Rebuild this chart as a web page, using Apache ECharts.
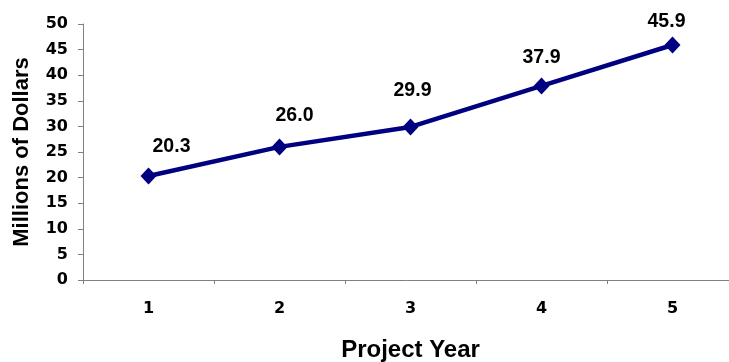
<!DOCTYPE html>
<html>
<head>
<meta charset="utf-8">
<script src="https://cdn.jsdelivr.net/npm/echarts@6/dist/echarts.min.js"></script>
<style>html,body{margin:0;padding:0;background:#fff;}#c{width:729px;height:362px;}</style>
</head>
<body>
<div id="c"></div>
<script>
const categories = ['1', '2', '3', '4', '5'];
const values = [20.3, 26.0, 29.9, 37.9, 45.9];
const valueLabels = ['20.3', '26.0', '29.9', '37.9', '45.9'];
const labelOffsets = [[23, -11], [15, -13], [2, -18], [0, -10], [-6, -5]];

const chart = echarts.init(document.getElementById('c'));
const font = 'Liberation Sans, Arial, sans-serif';
const tickFont = 'DejaVu Sans, sans-serif';
chart.setOption({
  animation: false,
  backgroundColor: '#fff',
  grid: { left: 83, top: 24, width: 655, height: 256, outerBoundsMode: 'none', containLabel: false },
  xAxis: {
    type: 'category',
    data: categories,
    boundaryGap: true,
    name: 'Project Year',
    nameLocation: 'middle',
    nameGap: 58,
    nameTextStyle: { fontFamily: font, fontWeight: 'bold', fontSize: 24, color: '#000' },
    axisLine: { lineStyle: { color: '#808080', width: 1 } },
    axisTick: { show: true, length: 4, alignWithLabel: false, lineStyle: { color: '#808080' } },
    axisLabel: { fontFamily: tickFont, fontWeight: 'bold', fontSize: 16, color: '#000', margin: 21 },
    splitLine: { show: false }
  },
  yAxis: {
    type: 'value',
    min: 0, max: 50, interval: 5,
    name: 'Millions of Dollars',
    nameLocation: 'middle',
    nameGap: 50,
    nameRotate: 90,
    nameTextStyle: { fontFamily: font, fontWeight: 'bold', fontSize: 22, color: '#000' },
    axisLine: { show: true, lineStyle: { color: '#808080', width: 1 } },
    axisTick: { show: true, length: 5, lineStyle: { color: '#808080' } },
    axisLabel: { fontFamily: tickFont, fontWeight: 'bold', fontSize: 16, color: '#000', margin: 15 },
    splitLine: { show: false }
  },
  series: [{
    type: 'line',
    data: values.map((v, i) => ({
      value: v,
      label: { offset: labelOffsets[i], formatter: valueLabels[i] }
    })),
    symbol: 'diamond',
    symbolSize: [16, 17],
    lineStyle: { color: '#000080', width: 4.5 },
    itemStyle: { color: '#000080' },
    label: {
      show: true,
      position: 'top',
      distance: 0,
      fontFamily: font,
      fontWeight: 'bold',
      fontSize: 19.5,
      color: '#000'
    }
  }]
});
</script>
</body>
</html>
